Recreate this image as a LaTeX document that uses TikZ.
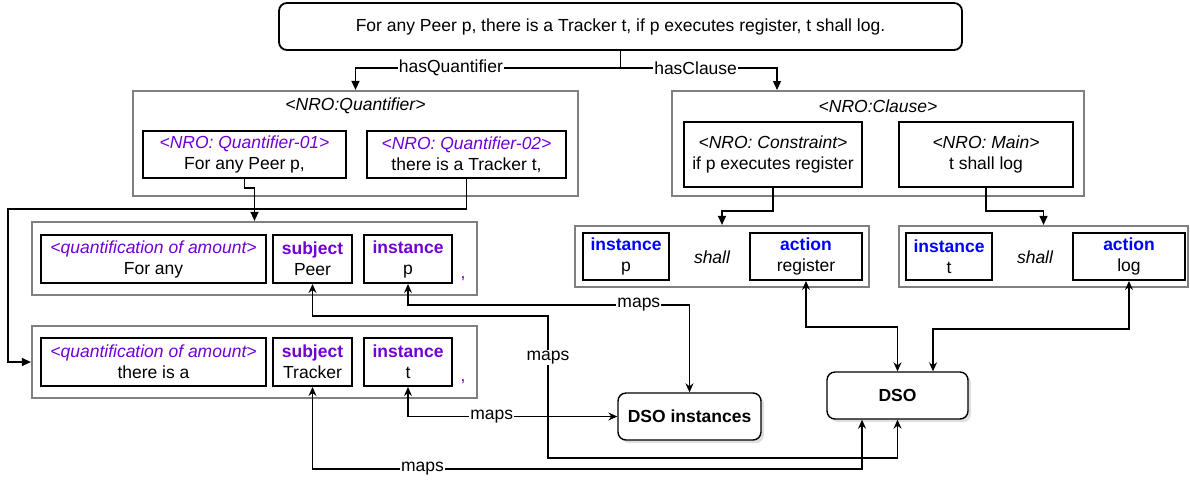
\documentclass[tikz,border=0pt]{standalone}
\usepackage{fontspec}
\setmainfont{Liberation Sans}
\usetikzlibrary{arrows.meta,shadows,calc}
\definecolor{purp}{RGB}{112,0,212}
\definecolor{bluet}{RGB}{0,0,255}
\definecolor{grayb}{RGB}{128,128,128}
\newcommand{\fsz}{\fontsize{17.5}{21}\selectfont}
\begin{document}
\begin{tikzpicture}[x=1pt,y=-1pt,
  every node/.style={font=\fsz, inner sep=0pt},
  topbox/.style={draw, line width=1.8pt, rounded corners=8pt},
  outerbox/.style={draw=grayb, line width=2.2pt},
  innerbox/.style={draw, line width=2pt, align=center},
  dsobox/.style={draw, line width=1.4pt, rounded corners=8pt, fill=white,
    drop shadow={shadow xshift=3pt, shadow yshift=-3pt, fill=black!25},
    font=\fsz\bfseries},
  struct/.style={line width=1.2pt, -{Triangle[length=9pt,width=8pt]}},
  maps/.style={line width=1.2pt,
    {Stealth[length=9pt,width=8pt,inset=3pt]}-{Stealth[length=9pt,width=8pt,inset=3pt]}},
  lbl/.style={fill=white, inner sep=1pt},
]
\useasboundingbox (0,0) rectangle (1190,483);

% top sentence
\node[topbox, minimum width=683pt, minimum height=47pt] (top) at (620.5,26.5)
  {For any Peer p, there is a Tracker t, if p executes register, t shall log.};

% quantifier group
\node[outerbox, minimum width=445pt, minimum height=105pt] (qbox) at (355.5,143.5) {};
\node (qtitle) at (355.5,106) {\itshape <NRO:Quantifier>};
\node[innerbox, minimum width=203pt, minimum height=47pt] (q1) at (244.5,154.5)
  {{\color{purp}\itshape <NRO: Quantifier-01>}\\For any Peer p,};
\node[innerbox, minimum width=199pt, minimum height=47pt] (q2) at (466.5,154.5)
  {{\color{purp}\itshape <NRO: Quantifier-02>}\\there is a Tracker t,};

% clause group
\node[outerbox, minimum width=412pt, minimum height=105pt] (cbox) at (878,143.5) {};
\node (ctitle) at (878,106) {\itshape <NRO:Clause>};
\node[innerbox, minimum width=178pt, minimum height=65pt] (con) at (773,154.5)
  {{\itshape <NRO: Constraint>}\\if p executes register};
\node[innerbox, minimum width=174pt, minimum height=65pt] (mainb) at (986,154.5)
  {{\itshape <NRO: Main>}\\t shall log};

% row 1
\node[outerbox, minimum width=445pt, minimum height=73pt] (r1) at (254.5,258.5) {};
\node[innerbox, minimum width=225pt, minimum height=48pt] (qa1) at (153.5,259)
  {{\color{purp}\itshape <quantification of amount>}\\For any};
\node[innerbox, minimum width=79pt, minimum height=48pt] (s1) at (312.5,259)
  {{\color{purp}\bfseries subject}\\Peer};
\node[innerbox, minimum width=88pt, minimum height=48pt] (i1) at (408,259)
  {{\color{purp}\bfseries instance}\\p};
\node[anchor=base, text=purp] (c1) at (463,278) {,};

% row 2
\node[outerbox, minimum width=445pt, minimum height=72pt] (r2) at (254.5,362) {};
\node[innerbox, minimum width=225pt, minimum height=48pt] (qa2) at (153.5,362)
  {{\color{purp}\itshape <quantification of amount>}\\there is a};
\node[innerbox, minimum width=79pt, minimum height=48pt] (s2) at (312.5,362)
  {{\color{purp}\bfseries subject}\\Tracker};
\node[innerbox, minimum width=88pt, minimum height=48pt] (i2) at (408,362)
  {{\color{purp}\bfseries instance}\\t};
\node[anchor=base, text=purp] (c2) at (463,381) {,};

% row 3
\node[outerbox, minimum width=294pt, minimum height=61pt] (r3) at (722,256.5) {};
\node[innerbox, minimum width=86pt, minimum height=47pt] (i3) at (626,256.5)
  {{\color{bluet}\bfseries instance}\\p};
\node (sh3) at (712,257) {\itshape shall};
\node[innerbox, minimum width=112pt, minimum height=47pt] (a3) at (806,256.5)
  {{\color{bluet}\bfseries action}\\register};

% row 4
\node[outerbox, minimum width=289pt, minimum height=61pt] (r4) at (1043.5,256.5) {};
\node[innerbox, minimum width=86pt, minimum height=47pt] (i4) at (949,256.5)
  {{\color{bluet}\bfseries instance}\\t};
\node (sh4) at (1035,257) {\itshape shall};
\node[innerbox, minimum width=112pt, minimum height=47pt] (a4) at (1129,256.5)
  {{\color{bluet}\bfseries action}\\log};

% DSO boxes
\node[dsobox, minimum width=143pt, minimum height=47pt] (dsoi) at (689.5,416.5) {DSO instances};
\node[dsobox, minimum width=141pt, minimum height=47pt] (dso) at (897.5,395.5) {DSO};

% structural connectors
\draw[line width=1.2pt] (top.south) -- ++(0,17) coordinate (split);
\coordinate (cin) at (777,90);
\draw[struct] (split) -| node[lbl,pos=0.32]{hasQuantifier} (qbox.north);
\draw[struct] (split) -| node[lbl,pos=0.24]{hasClause} (cin);
\draw[struct] (q1.south) -- ++(0,9) -| (r1.north);
\coordinate (lft) at (8,209);
\draw[struct] (q2.south) |- (lft) |- (r2.west);
\draw[struct] (con.south) -- ++(0,23) -| (r3.north);
\draw[struct] (mainb.south) -- ++(0,23) -| (r4.north);

% maps connectors
\draw[maps] (i1.south) -- ++(0,21) -| node[lbl,pos=0.41]{maps} (dsoi.north);
\draw[maps] (i2.south) |- node[lbl,pos=0.7]{maps} (dsoi.west);
\coordinate (pa) at (548,316);
\coordinate (pb) at (548,458);
\draw[maps] (s1.south) |- (pa) -- node[lbl,pos=0.29]{maps} (pb) -| (dso.south);
\coordinate (tb) at (312.5,469);
\coordinate (dsoL) at ($(dso.south)+(-35.5,0)$);
\draw[maps] (s2.south) -- (tb) -| node[lbl,pos=0.1]{maps} (dsoL);
\draw[maps] (a3.south) -- ++(0,46) -| (dso.north);
\coordinate (dsoR) at ($(dso.north)+(35.5,0)$);
\draw[maps] (a4.south) -- ++(0,48) -| (dsoR);
\end{tikzpicture}
\end{document}
